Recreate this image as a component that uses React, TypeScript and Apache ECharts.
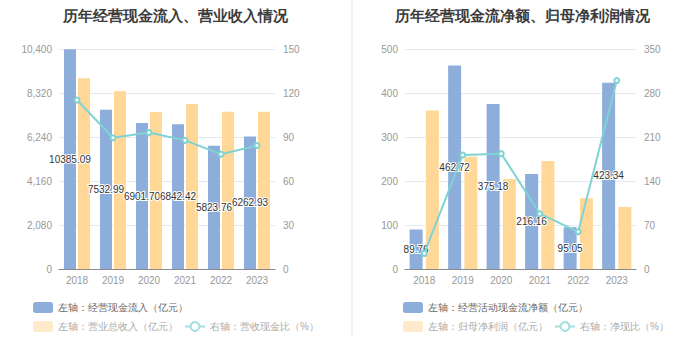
import React, { useEffect, useRef } from "react";
import * as echarts from "echarts";

const years = ["2018", "2019", "2020", "2021", "2022", "2023"];

// Left chart
const cashInflow = [10385.09, 7532.99, 6901.7, 6842.42, 5823.76, 6262.93];
const revenue = [9015, 8415, 7422, 7800, 7437, 7437];
const cashRevenueRatio = [115.2, 89.5, 93.0, 87.7, 78.3, 84.2];

// Right chart
const netOpCash = [89.76, 462.72, 375.18, 216.16, 95.05, 423.34];
const netProfit = [360, 255, 204.5, 245.5, 160.6, 141];
const netCashRatio = [24.9, 181.4, 183.5, 88.0, 59.2, 300.0];

const leftTicks = { max: 10400, interval: 2080, rmax: 150, rinterval: 30 };
const rightTicks = { max: 500, interval: 100, rmax: 350, rinterval: 70 };

const BLUE = "#8dadda";
const YELLOW = "#ffd898";
const CYAN = "#7fd3d3";
const PALE_CYAN = "#a3dfdf";

export default function App() {
  const ref = useRef<HTMLDivElement>(null);
  useEffect(() => {
    if (!ref.current) return;
    const chart = echarts.init(ref.current, undefined, { renderer: "svg" });
    const axisLabel = { color: "#999", fontSize: 10 };
    const labelStyle = {
      show: true,
      position: "inside",
      color: "#333",
      fontSize: 10,
      textBorderColor: "#fff",
      textBorderWidth: 2,
    };
    const xAxis = (gi: number) => ({
      type: "category",
      gridIndex: gi,
      data: years,
      axisLine: { lineStyle: { color: "#8a8a8a" } },
      axisTick: { alignWithLabel: true, lineStyle: { color: "#8a8a8a" } },
      axisLabel: { ...axisLabel, margin: 6 },
    });
    const yAxisL = (gi: number, max: number, interval: number, fmt?: any) => ({
      type: "value",
      gridIndex: gi,
      min: 0,
      max,
      interval,
      axisLine: { show: false },
      axisTick: { show: false },
      axisLabel: { ...axisLabel, margin: 7, formatter: fmt },
      splitLine: { lineStyle: { color: "#e6e9f2" } },
    });
    const yAxisR = (gi: number, max: number, interval: number) => ({
      type: "value",
      gridIndex: gi,
      position: "right",
      min: 0,
      max,
      interval,
      axisLine: { show: false },
      axisTick: { show: false },
      axisLabel: { ...axisLabel, margin: 8 },
      splitLine: { show: false },
    });
    const legendText = (c: string) => ({ fontSize: 10, color: c });
    const lineLegend = (name: string) => ({
      name,
      itemStyle: { color: PALE_CYAN },
      lineStyle: { color: PALE_CYAN, width: 2 },
      textStyle: legendText("#aaa"),
    });
    chart.setOption({
      animation: false,
      title: [
        {
          text: "历年经营现金流入、营业收入情况",
          left: 170,
          top: 3,
          textAlign: "center",
          textStyle: { fontSize: 15, fontWeight: "bold", color: "#3c3c3c" },
        },
        {
          text: "历年经营现金流净额、归母净利润情况",
          left: 517,
          top: 3,
          textAlign: "center",
          textStyle: { fontSize: 15, fontWeight: "bold", color: "#3c3c3c" },
        },
      ],
      graphic: [
        {
          type: "rect",
          shape: { x: 351, y: 0, width: 2, height: 335 },
          style: { fill: "#f3f3f3" },
        },
      ],
      grid: [
        { left: 59, top: 49, width: 216, height: 220 },
        { left: 405, top: 49, width: 231, height: 220 },
      ],
      xAxis: [xAxis(0), xAxis(1)],
      yAxis: [
        yAxisL(0, leftTicks.max, leftTicks.interval, (v: number) =>
          v.toLocaleString("en-US")
        ),
        yAxisR(0, leftTicks.rmax, leftTicks.rinterval),
        yAxisL(1, rightTicks.max, rightTicks.interval),
        yAxisR(1, rightTicks.rmax, rightTicks.rinterval),
      ],
      legend: [
        {
          left: 28,
          top: 297,
          itemWidth: 20,
          itemHeight: 11,
          data: [{ name: "左轴：经营现金流入（亿元）", textStyle: legendText("#666") }],
        },
        {
          left: 28,
          top: 316,
          itemWidth: 20,
          itemHeight: 11,
          itemGap: 6,
          data: [
            {
              name: "左轴：营业总收入（亿元）",
              itemStyle: { color: "#ffeacb" },
              textStyle: legendText("#aaa"),
            },
            lineLegend("右轴：营收现金比（%）"),
          ],
        },
        {
          left: 398,
          top: 297,
          itemWidth: 20,
          itemHeight: 11,
          data: [{ name: "左轴：经营活动现金流净额（亿元）", textStyle: legendText("#666") }],
        },
        {
          left: 398,
          top: 316,
          itemWidth: 20,
          itemHeight: 11,
          itemGap: 6,
          data: [
            {
              name: "左轴：归母净利润（亿元）",
              itemStyle: { color: "#ffeacb" },
              textStyle: legendText("#aaa"),
            },
            lineLegend("右轴：净现比（%）"),
          ],
        },
      ],
      series: [
        {
          name: "左轴：经营现金流入（亿元）",
          type: "bar",
          xAxisIndex: 0,
          yAxisIndex: 0,
          barWidth: 12,
          barGap: "17%",
          data: cashInflow,
          itemStyle: { color: BLUE },
          label: { ...labelStyle, formatter: (p: any) => p.value.toFixed(2) },
          z: 3,
        },
        {
          name: "左轴：营业总收入（亿元）",
          type: "bar",
          xAxisIndex: 0,
          yAxisIndex: 0,
          barWidth: 12,
          barGap: "17%",
          data: revenue,
          itemStyle: { color: YELLOW },
          z: 2,
        },
        {
          name: "右轴：营收现金比（%）",
          type: "line",
          xAxisIndex: 0,
          yAxisIndex: 1,
          data: cashRevenueRatio,
          symbol: "emptyCircle",
          symbolSize: 5,
          lineStyle: { color: CYAN, width: 2 },
          itemStyle: { color: CYAN },
          z: 4,
        },
        {
          name: "左轴：经营活动现金流净额（亿元）",
          type: "bar",
          xAxisIndex: 1,
          yAxisIndex: 2,
          barWidth: 13,
          barGap: "25%",
          data: netOpCash,
          itemStyle: { color: BLUE },
          label: { ...labelStyle, formatter: (p: any) => p.value.toFixed(2) },
          z: 3,
        },
        {
          name: "左轴：归母净利润（亿元）",
          type: "bar",
          xAxisIndex: 1,
          yAxisIndex: 2,
          barWidth: 13,
          barGap: "25%",
          data: netProfit,
          itemStyle: { color: YELLOW },
          z: 2,
        },
        {
          name: "右轴：净现比（%）",
          type: "line",
          xAxisIndex: 1,
          yAxisIndex: 3,
          data: netCashRatio,
          symbol: "emptyCircle",
          symbolSize: 5,
          lineStyle: { color: CYAN, width: 2 },
          itemStyle: { color: CYAN },
          z: 4,
        },
      ],
    });
    return () => chart.dispose();
  }, []);
  return (
    <div
      ref={ref}
      style={{ position: "fixed", left: 0, top: 0, width: 700, height: 360, background: "#fff" }}
    />
  );
}
